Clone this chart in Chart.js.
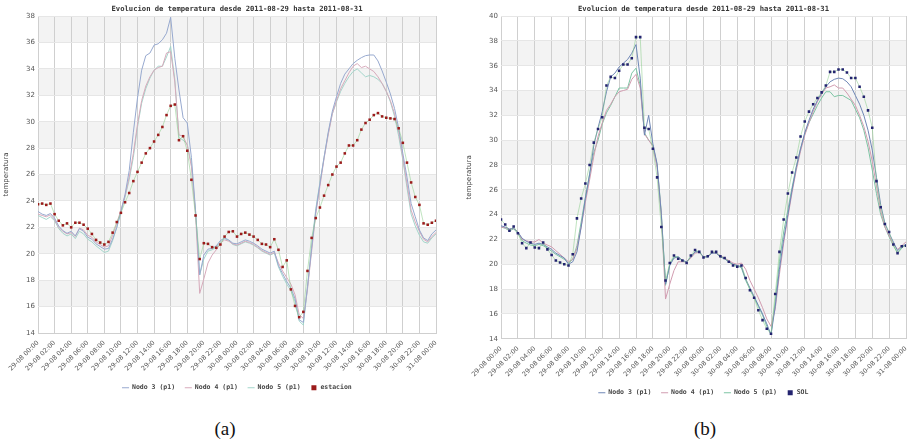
<!DOCTYPE html>
<html>
<head>
<meta charset="utf-8">
<script src="https://cdn.jsdelivr.net/npm/chart.js@4.4.0/dist/chart.umd.min.js"></script>
<style>
  body { margin: 0; background: #fff; width: 910px; height: 444px; position: relative; overflow: hidden; }
  canvas { position: absolute; top: 0; }
  #chartA { left: 0; }
  #chartB { left: 455px; }
  .cap { position: absolute; top: 419px; width: 60px; text-align: center; font: 19px/19px "Liberation Serif", "Times New Roman", serif; color: #111; }
</style>
</head>
<body>
<canvas id="chartA" width="450" height="404"></canvas>
<canvas id="chartB" width="455" height="408"></canvas>
<div class="cap" style="left:195px">(a)</div>
<div class="cap" style="left:675px">(b)</div>
<script>
const titleText = 'Evolucion de temperatura desde 2011-08-29 hasta 2011-08-31';
const tickLabels = [
  '29-08 00:00', '29-08 02:00', '29-08 04:00', '29-08 06:00', '29-08 08:00', '29-08 10:00',
  '29-08 12:00', '29-08 14:00', '29-08 16:00', '29-08 18:00', '29-08 20:00', '29-08 22:00',
  '30-08 00:00', '30-08 02:00', '30-08 04:00', '30-08 06:00', '30-08 08:00', '30-08 10:00',
  '30-08 12:00', '30-08 14:00', '30-08 16:00', '30-08 18:00', '30-08 20:00', '30-08 22:00',
  '31-08 00:00'
];
const stepHours = 0.5; // one reading every 30 min, starting 29-08 00:00

// (a) ---------------------------------------------------------------
const nodo3A = [
  23.2, 23.0, 22.9, 23.05, 22.7, 22.1, 21.75, 21.55, 21.7, 21.35, 21.9, 21.7, 21.25, 21.1, 20.75, 20.55, 20.35, 20.4, 21.1, 22.0, 23.2,
  24.5, 26.3, 29.2, 31.8, 33.9, 35.0, 35.2, 35.8, 35.9, 36.2, 36.7, 37.9, 34.8, 32.4, 30.3, 29.9, 27.3, 23.3, 18.4, 19.9, 20.35, 20.4, 20.6, 21.0, 21.2, 21.05, 20.8, 20.75,
  20.9, 21.05, 20.95, 20.8, 20.6, 20.35, 20.2, 20.05, 20.2, 19.1, 18.5, 17.9, 17.4, 16.6, 15.0, 14.8, 17.5, 20.4, 23.2, 25.3,
  27.3, 29.2, 30.8, 31.9, 32.9, 33.6, 34.0, 34.4, 34.65, 34.85, 35.0, 35.05, 35.05, 34.6, 33.85, 33.0, 32.1, 31.0, 29.5, 27.6,
  25.8, 23.8, 22.8, 21.8, 21.2, 21.0, 21.5, 21.8
];
const nodo4A = [
  23.0, 22.9, 22.8, 22.95, 22.6, 22.0, 21.7, 21.5, 21.6, 21.3, 21.95, 21.8, 21.4, 21.25, 20.9, 20.7, 20.5, 20.6, 21.4, 22.3, 23.3,
  24.4, 25.8, 27.6, 29.8, 31.6, 32.7, 33.4, 33.9, 34.1, 34.2, 35.2, 35.3, 33.0, 29.0, 28.9, 28.2, 26.6, 23.0, 17.0, 18.1, 19.3, 19.9, 20.3, 20.8, 21.05, 20.95, 20.75, 20.65,
  20.8, 20.95, 20.85, 20.7, 20.5, 20.25, 20.1, 19.95, 20.1, 19.3, 18.7, 18.2, 17.7, 16.9, 15.4, 15.1, 17.3, 20.2, 23.0, 25.1,
  27.2, 29.0, 30.6, 31.6, 32.5, 33.1, 33.7, 34.2, 34.4, 34.1, 34.2, 34.0, 33.8, 33.4, 32.9, 32.3, 31.6, 30.6, 29.2, 27.3,
  25.3, 23.3, 22.4, 21.7, 21.1, 20.9, 21.3, 21.6
];
const nodo5A = [
  22.9, 22.75, 22.6, 22.8, 22.5, 21.9, 21.55, 21.35, 21.5, 21.15, 21.7, 21.5, 21.1, 20.9, 20.6, 20.35, 20.1, 20.2, 21.0, 22.0, 23.1,
  24.3, 25.6, 27.3, 29.6, 31.4, 32.5, 33.3, 33.9, 34.2, 34.2, 34.9, 35.7, 33.2, 28.8, 28.6, 28.3, 26.8, 23.2, 18.4, 19.6, 20.2, 20.3, 20.5, 20.9, 21.15, 21.0, 20.7, 20.6,
  20.75, 20.9, 20.8, 20.65, 20.45, 20.2, 20.05, 19.9, 20.05, 19.0, 18.3, 17.7, 17.2, 16.4, 14.9, 14.6, 17.4, 20.6, 23.4, 25.4,
  27.3, 29.1, 30.6, 31.5, 32.3, 32.9, 33.4, 33.8, 34.0, 33.7, 33.4, 33.5, 33.4, 33.2, 32.9, 32.3, 31.5, 30.4, 28.9, 27.1,
  25.0, 23.0, 22.1, 21.4, 20.9, 20.8, 21.2, 21.5
];
const estacionA = [
  23.75, 23.8, 23.7, 23.8, 23.0, 22.5, 22.15, 22.3, 22.0, 22.35, 22.35, 22.2, 21.9, 21.5, 21.05, 20.85, 20.7, 20.9, 21.6, 22.4, 23.1,
  23.9, 24.6, 25.5, 26.2, 26.9, 27.6, 28.0, 28.5, 29.0, 29.6, 30.5, 31.2, 31.3, 28.6, 28.9, 27.8, 25.6, 22.9, 19.6, 20.8, 20.75, 20.5, 20.45, 20.7, 21.3, 21.65, 21.7, 21.3,
  21.5, 21.6, 21.45, 21.3, 21.05, 20.75, 20.7, 20.5, 21.1, 20.3, 19.0, 19.5, 17.3, 16.05, 15.2, 15.6, 18.7, 21.2, 22.7, 23.5,
  24.4, 25.2, 26.0, 26.6, 26.9, 27.6, 28.2, 28.2, 28.6, 29.4, 29.9, 30.15, 30.5, 30.65, 30.4, 30.3, 30.25, 30.2, 29.5, 28.4,
  26.9, 25.4, 24.3, 23.7, 22.3, 22.2, 22.35, 22.5
];

// (b) ---------------------------------------------------------------
const nodo3B = [
  23.1, 23.0, 22.85, 22.9, 22.6, 22.1, 21.85, 21.7, 21.6, 21.7, 21.6, 21.4, 21.2, 20.9, 20.7, 20.5, 20.0, 20.2, 21.0, 23.0, 25.3,
  27.2, 29.6, 31.0, 32.3, 33.9, 35.1, 35.4, 35.9, 36.2, 36.5, 37.0, 37.7, 35.0, 30.4, 32.0, 29.7, 28.1, 24.0, 18.4, 19.9, 20.5, 20.6, 20.3, 20.2, 20.6, 21.0, 21.0, 20.6,
  20.6, 20.9, 20.9, 20.6, 20.45, 20.2, 20.0, 19.9, 19.8, 18.8, 18.1, 17.4, 16.7, 16.0, 15.2, 14.3, 16.6, 19.6, 22.0, 24.0,
  26.0, 27.8, 29.3, 30.6, 31.6, 32.5, 33.2, 33.8, 34.3, 34.7, 34.9, 35.0, 34.95, 34.7, 34.3, 33.6, 32.9, 32.0, 30.8, 29.2,
  27.0, 24.8, 23.3, 22.5, 21.8, 21.1, 21.4, 21.6
];
const nodo4B = [
  23.0, 22.95, 22.8, 22.9, 22.6, 22.0, 21.9, 21.8, 21.8, 22.0, 21.7, 21.55, 21.4, 21.1, 20.8, 20.5, 20.2, 20.4, 21.3, 23.0, 25.0,
  26.8, 28.7, 30.3, 31.4, 32.4, 32.9, 33.5, 33.9, 34.0, 34.1, 34.9, 35.3, 34.2, 30.5, 30.0, 29.5, 27.8, 24.0, 17.2, 18.4, 19.5, 20.2, 20.2, 20.2, 20.5, 20.9, 20.95, 20.6,
  20.65, 20.95, 20.9, 20.7, 20.5, 20.3, 20.1, 20.0, 20.1, 19.6, 18.7, 18.0, 17.3, 16.5, 15.6, 15.0, 16.4, 19.2, 21.7, 23.8,
  25.8, 27.6, 29.1, 30.4, 31.4, 32.3, 33.1, 33.7, 34.2, 34.3, 34.45, 34.2, 34.2, 33.8, 33.3, 32.8, 32.0, 31.1, 29.9, 28.3,
  26.3, 24.3, 23.0, 22.3, 21.6, 21.2, 21.5, 21.8
];
const nodo5B = [
  23.0, 22.9, 22.7, 22.85, 22.5, 21.9, 21.7, 21.55, 21.5, 21.6, 21.5, 21.3, 21.05, 20.8, 20.6, 20.4, 20.1, 20.4, 21.5, 23.4, 25.4,
  27.3, 29.0, 30.0, 31.3, 32.2, 32.8, 33.5, 34.2, 34.2, 34.2, 35.4, 35.8, 34.4, 30.6, 30.0, 29.6, 28.0, 24.2, 18.3, 20.0, 20.6, 20.6, 20.3, 20.2, 20.6, 21.0, 21.0, 20.6,
  20.6, 20.95, 20.9, 20.6, 20.45, 20.2, 20.0, 19.9, 19.7, 18.7, 18.0, 17.3, 16.6, 15.9, 15.0, 14.4, 17.0, 20.2, 22.6, 24.4,
  26.2, 27.9, 29.3, 30.5, 31.4, 32.1, 32.8, 33.4, 33.9, 33.9, 33.5, 33.6, 33.6, 33.4, 33.2, 32.5, 31.8, 30.8, 29.4, 27.6,
  25.7, 24.0, 23.0, 22.2, 21.5, 20.9, 21.3, 21.6
];
const solB = [
  23.6, 23.2, 22.7, 23.05, 22.5, 21.7, 21.3, 21.75, 21.35, 21.3, 21.75, 21.2, 20.75, 20.3, 20.15, 20.0, 19.9, 20.8, 23.7, 25.3, 26.5,
  28.0, 29.8, 30.9, 31.85, 34.4, 35.1, 35.0, 35.6, 36.1, 36.1, 36.6, 38.3, 38.3, 31.0, 30.9, 29.3, 27.0, 23.0, 18.7, 20.1, 20.7, 20.45, 20.3, 20.1, 20.7, 21.15, 21.0, 20.55,
  20.65, 21.0, 21.0, 20.65, 20.5, 20.2, 19.9, 19.8, 19.9, 18.9, 17.9, 17.3, 16.3, 15.5, 14.8, 14.4, 17.6, 21.0, 23.6, 25.7,
  27.4, 28.6, 30.3, 31.5, 32.3, 32.9, 33.4, 33.85, 34.4, 35.5, 35.5, 35.7, 35.7, 35.45, 35.0, 35.0, 34.3, 33.5, 32.4, 31.0,
  26.7, 24.6, 23.25, 22.6, 21.6, 20.9, 21.45, 21.5
];

const shadedBands = [[16, 18], [20, 22], [24, 26], [28, 30], [32, 34], [36, 38]];

function toPoints(values) {
  return values.map((v, i) => ({ x: i * stepHours, y: v }));
}

const bandPlugin = {
  id: 'bands',
  beforeDraw(chart) {
    const { ctx, chartArea: a, scales: { y } } = chart;
    ctx.save();
    ctx.fillStyle = '#f3f3f3';
    shadedBands.forEach(([lo, hi]) => {
      if (hi > y.max) return;
      const top = y.getPixelForValue(hi);
      const bottom = y.getPixelForValue(lo);
      ctx.fillRect(a.left, top, a.right - a.left, bottom - top);
    });
    ctx.restore();
  }
};

function lineSet(label, values, color) {
  return {
    label: label,
    data: toPoints(values),
    borderColor: color,
    backgroundColor: color,
    borderWidth: 1,
    pointRadius: 0,
    pointStyle: 'line',
    order: 1
  };
}

function dotSet(label, values, color) {
  return {
    label: label,
    data: toPoints(values),
    showLine: true,
    borderColor: 'rgba(140, 205, 140, 0.55)',
    borderWidth: 1,
    pointStyle: 'rect',
    pointRadius: 1.8,
    pointBorderWidth: 0,
    pointBackgroundColor: color,
    pointBorderColor: color,
    order: 0
  };
}

function makeChart(id, datasets, opts) {
  const smallFont = { family: 'DejaVu Sans', size: 7 };
  return new Chart(document.getElementById(id), {
    type: 'line',
    data: { datasets: datasets },
    plugins: [bandPlugin],
    options: {
      responsive: false,
      animation: false,
      devicePixelRatio: 1,
      layout: { padding: opts.padding },
      scales: {
        x: {
          type: 'linear',
          min: 0,
          max: 48,
          ticks: {
            stepSize: 2,
            autoSkip: false,
            minRotation: 45,
            maxRotation: 45,
            padding: 6,
            color: '#555',
            font: { family: 'DejaVu Sans', size: 6.5 },
            callback: (value) => tickLabels[value / 2]
          },
          grid: { color: '#cfcfcf', drawTicks: false },
          border: { color: '#cfcfcf' },
          afterFit: (scale) => {
            scale.height = opts.xHeight;
            scale.paddingLeft = 0;
            scale.paddingRight = 0;
          }
        },
        y: {
          min: 14,
          max: opts.yMax,
          ticks: { stepSize: 2, padding: 3, color: '#555', font: smallFont },
          grid: { color: '#e6e6e6', drawTicks: false },
          border: { display: false },
          title: { display: true, text: 'temperatura', color: '#444', font: smallFont, padding: { top: 2, bottom: 0 } },
          afterFit: (scale) => { scale.width = 38; }
        }
      },
      plugins: {
        title: {
          display: true,
          text: titleText,
          fullSize: false,
          color: '#333',
          font: { family: 'DejaVu Sans Mono', size: 7.2, weight: 'bold' },
          padding: { top: 5, bottom: 2.4 }
        },
        legend: {
          position: 'bottom',
          fullSize: false,
          labels: {
            usePointStyle: true,
            boxHeight: 5,
            padding: 10,
            color: '#444',
            font: { family: 'DejaVu Sans Mono', size: 6.5, weight: 'bold' },
            sort: (a, b) => a.datasetIndex - b.datasetIndex
          }
        },
        tooltip: { enabled: false }
      }
    }
  });
}

makeChart('chartA', [
  lineSet('Nodo 3 (p1)', nodo3A, '#97a9cf'),
  lineSet('Nodo 4 (p1)', nodo4A, '#d7aabb'),
  lineSet('Nodo 5 (p1)', nodo5A, '#a3d6cb'),
  dotSet('estacion', estacionA, '#9b1b1b')
], { padding: { left: 0, right: 14, top: 0, bottom: 3 }, xHeight: 41.5, yMax: 38 });

makeChart('chartB', [
  lineSet('Nodo 3 (p1)', nodo3B, '#6f87b6'),
  lineSet('Nodo 4 (p1)', nodo4B, '#d19cb0'),
  lineSet('Nodo 5 (p1)', nodo5B, '#7cc4a3'),
  dotSet('SOL', solB, '#23236f')
], { padding: { left: 8, right: 2, top: 0, bottom: 2 }, xHeight: 40.75, yMax: 40 });
</script>
</body>
</html>
